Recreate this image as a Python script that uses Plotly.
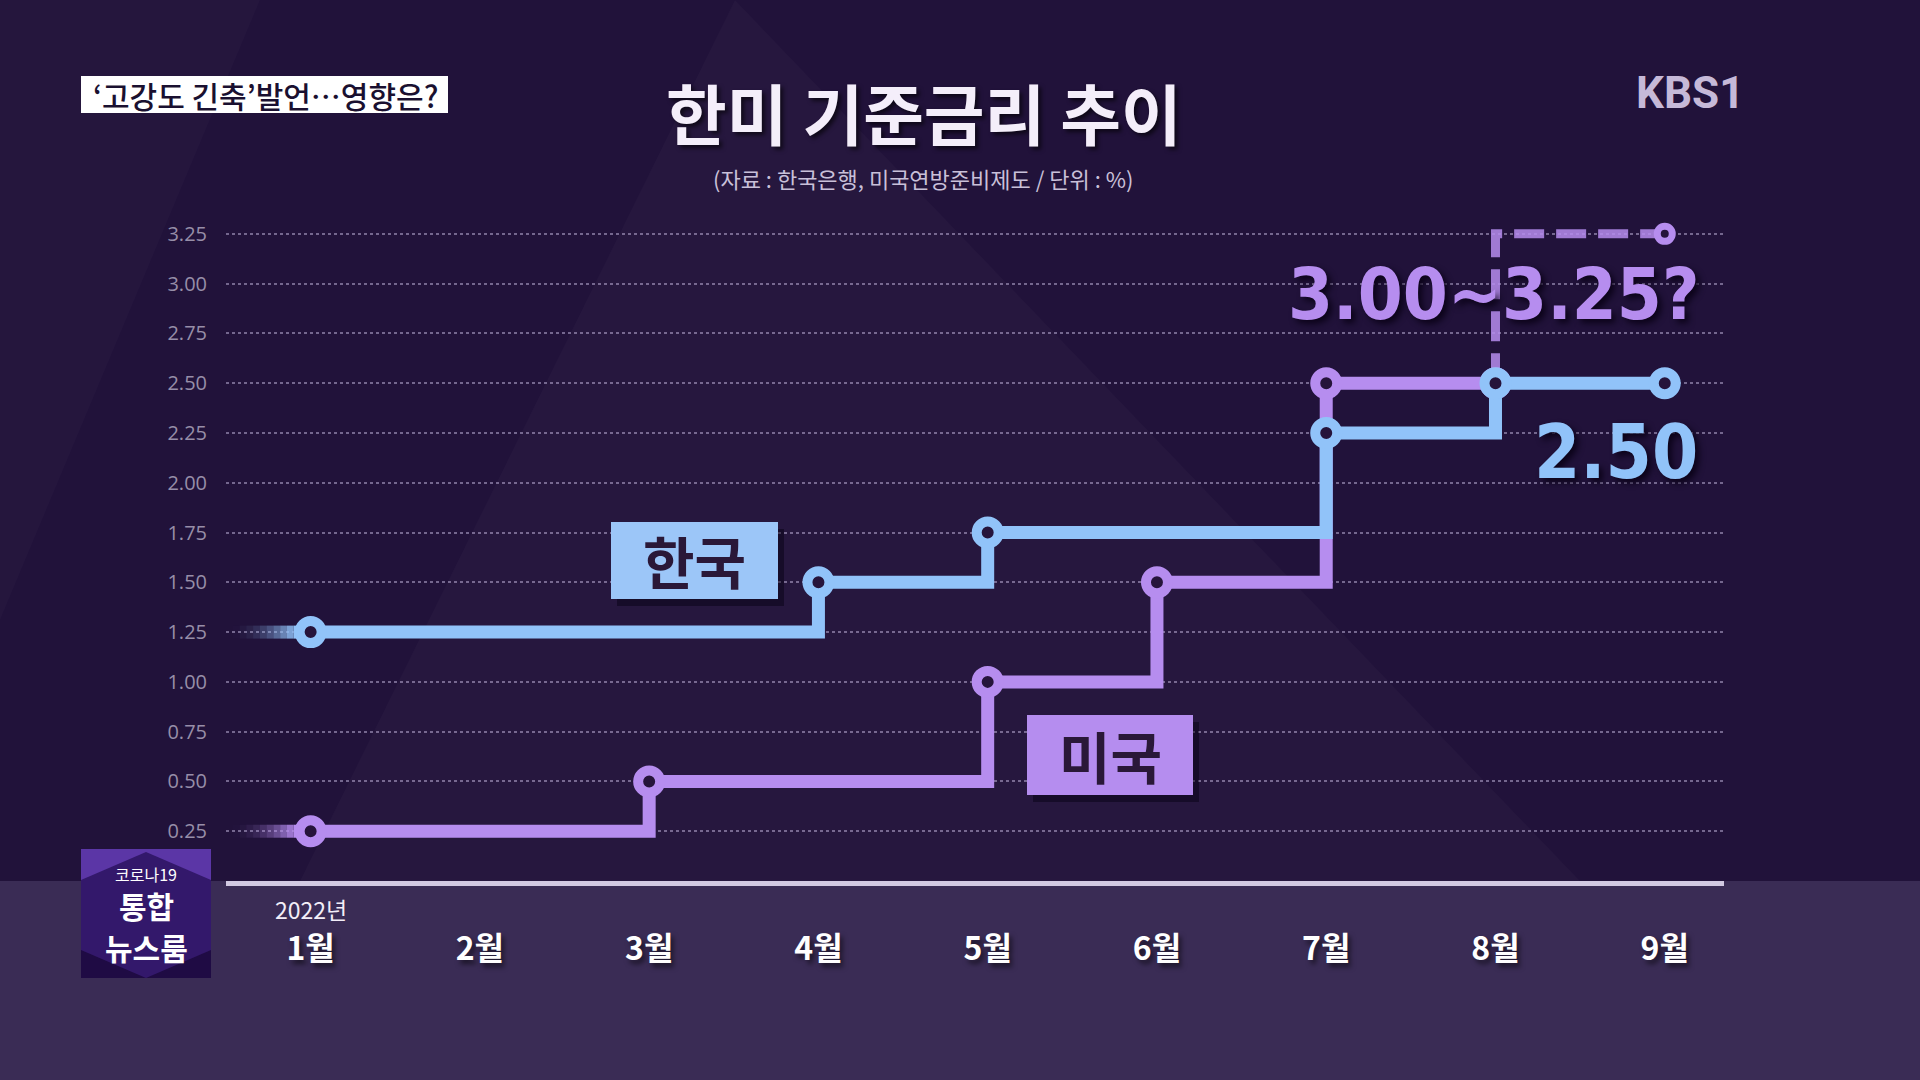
import plotly.graph_objects as go

# ---------------- data ----------------
months = ["1월", "2월", "3월", "4월", "5월", "6월", "7월", "8월", "9월"]
month_idx = list(range(len(months)))
yticks = [0.25, 0.50, 0.75, 1.00, 1.25, 1.50, 1.75, 2.00, 2.25, 2.50, 2.75, 3.00, 3.25]

kr_x = [0, 3, 4, 6, 7, 8]
kr_y = [1.25, 1.50, 1.75, 2.25, 2.50, 2.50]

us_x = [0, 2, 4, 5, 6, 7]
us_y = [0.25, 0.50, 1.00, 1.50, 2.50, 2.50]

us_proj_x = [7, 8]
us_proj_y = [2.50, 3.25]

# ---------------- style ----------------
BG = "#21123a"
BAND = "#3a2c55"
BLUE = "#91c3f9"
PURPLE = "#b68def"
DARK = "#26143b"
KR_FONT = "Noto Sans CJK KR"
NUM_FONT = "DejaVu Sans Condensed, DejaVu Sans, sans-serif"
SHADOW = "4px 4px 6px rgba(8,0,20,0.85)"

L, R, T, B = 226, 196, 204, 199
W = 1920 - L - R
H = 1080 - T - B
BASE = 1080 - B


def PX(x):
    return (x - L) / W


def PY(y):
    return (BASE - y) / H


fig = go.Figure()

# fading lead-in stubs
def stub(y0, color_rgb):
    n = 10
    xs0, xs1 = -0.46, -0.06
    for i in range(n):
        a = (i + 1) / n
        x0 = xs0 + (xs1 - xs0) * i / n
        x1 = xs0 + (xs1 - xs0) * (i + 1) / n
        fig.add_trace(go.Scatter(
            x=[x0, x1], y=[y0, y0], mode="lines",
            line=dict(color=f"rgba({color_rgb},{a*a:.3f})", width=13),
            hoverinfo="skip", showlegend=False))

stub(us_y[0], "182,141,239")
stub(kr_y[0], "145,195,249")

# US projection (dashed)
fig.add_trace(go.Scatter(
    x=us_proj_x, y=us_proj_y, mode="lines",
    line=dict(color="rgba(182,141,239,0.85)", width=9, shape="vh", dash="30px,12px"),
    hoverinfo="skip", showlegend=False))
fig.add_trace(go.Scatter(
    x=us_proj_x[-1:], y=us_proj_y[-1:], mode="markers",
    marker=dict(size=15, color=DARK, line=dict(color=PURPLE, width=7)),
    hoverinfo="skip", showlegend=False))

# US line
fig.add_trace(go.Scatter(
    x=us_x, y=us_y, mode="lines+markers", name="미국",
    line=dict(color=PURPLE, width=13, shape="hv"),
    marker=dict(size=22, color=DARK, line=dict(color=PURPLE, width=10)),
    showlegend=False))

# Korea line
fig.add_trace(go.Scatter(
    x=kr_x, y=kr_y, mode="lines+markers", name="한국",
    line=dict(color=BLUE, width=13, shape="hv"),
    marker=dict(size=22, color=DARK, line=dict(color=BLUE, width=10)),
    showlegend=False))

shapes = []
# background spotlight & band
shapes.append(dict(type="path", xref="paper", yref="paper", layer="below",
                   path=f"M {PX(735)} {PY(0)} L {PX(1580)} {PY(881)} L {PX(300)} {PY(881)} Z",
                   fillcolor="rgba(255,255,255,0.022)", line=dict(width=0)))
shapes.append(dict(type="path", xref="paper", yref="paper", layer="below",
                   path=f"M {PX(0)} {PY(0)} L {PX(260)} {PY(0)} L {PX(0)} {PY(620)} Z",
                   fillcolor="rgba(255,255,255,0.018)", line=dict(width=0)))
shapes.append(dict(type="rect", xref="paper", yref="paper", layer="below",
                   x0=PX(0), x1=PX(1920), y0=PY(881), y1=PY(1080),
                   fillcolor=BAND, line=dict(width=0)))
# tag box
shapes.append(dict(type="rect", xref="paper", yref="paper",
                   x0=PX(81), x1=PX(448), y0=PY(113), y1=PY(76),
                   fillcolor="#ffffff", line=dict(width=0)))
# label boxes with shadow
for (x0, y0, x1, y1, col) in [(611, 522, 778, 599, "#9cc6f8"), (1027, 715, 1193, 795, "#b58def")]:
    shapes.append(dict(type="rect", xref="paper", yref="paper",
                       x0=PX(x0 + 6), x1=PX(x1 + 6), y0=PY(y1 + 7), y1=PY(y0 + 7),
                       fillcolor="rgba(5,0,15,0.45)", line=dict(width=0)))
    shapes.append(dict(type="rect", xref="paper", yref="paper",
                       x0=PX(x0), x1=PX(x1), y0=PY(y1), y1=PY(y0),
                       fillcolor=col, line=dict(width=0)))
# corner logo box
shapes.append(dict(type="rect", xref="paper", yref="paper",
                   x0=PX(81), x1=PX(211), y0=PY(978), y1=PY(849),
                   fillcolor="#1f0b44", line=dict(width=0)))
shapes.append(dict(type="path", xref="paper", yref="paper",
                   path=(f"M {PX(81)} {PY(849)} L {PX(211)} {PY(849)} L {PX(211)} {PY(900)} "
                         f"L {PX(146)} {PY(930)} L {PX(81)} {PY(900)} Z"),
                   fillcolor="#5b36a6", line=dict(width=0)))
shapes.append(dict(type="path", xref="paper", yref="paper",
                   path=(f"M {PX(81)} {PY(880)} L {PX(146)} {PY(852)} L {PX(211)} {PY(880)} "
                         f"L {PX(211)} {PY(950)} L {PX(146)} {PY(978)} L {PX(81)} {PY(950)} Z"),
                   fillcolor="#33186b", line=dict(width=0)))

annotations = []


def ann(text, x, y, size, color, family=KR_FONT, weight="normal", shadow="none", **kw):
    annotations.append(dict(text=text, x=PX(x), y=PY(y), xref="paper", yref="paper",
                            showarrow=False, xanchor="center", yanchor="middle",
                            font=dict(family=family, size=size, color=color, weight=weight, shadow=shadow),
                            **kw))


ann("한미 기준금리 추이", 924, 111, 66, "#f4eefa", weight="bold", shadow="3px 3px 4px rgba(0,0,0,0.6)")
ann("(자료 : 한국은행, 미국연방준비제도 / 단위 : %)", 923, 178, 22, "#c9c0d9")
ann("‘고강도 긴축’발언…영향은?", 265, 95, 30, "#1a1030", weight=500)
ann("KBS1", 1690, 93, 44, "#c6b9d8", family="Roboto, sans-serif", weight="bold")
ann("한국", 694, 559, 56, "#2a1838", weight="bold")
ann("미국", 1110, 754, 56, "#2a1838", weight="bold")
ann("3.00~3.25?", 1494, 294, 72, PURPLE, family=NUM_FONT, weight="bold", shadow=SHADOW)
ann("2.50", 1616, 452, 74, BLUE, family=NUM_FONT, weight="bold", shadow=SHADOW)
ann("2022년", 311, 909, 23, "#f2eef8")
ann("코로나19", 146, 874, 16, "#ffffff")
ann("통합", 146, 905, 30, "#ffffff", weight="bold")
ann("뉴스룸", 146, 947, 30, "#ffffff", weight="bold")

fig.update_layout(
    width=1920, height=1080,
    margin=dict(l=L, r=R, t=T, b=B),
    paper_bgcolor=BG, plot_bgcolor="rgba(0,0,0,0)",
    shapes=shapes, annotations=annotations,
    showlegend=False,
    xaxis=dict(range=[-0.5, 8.35], tickvals=month_idx, ticktext=months,
               showgrid=False, zeroline=False, showline=True,
               linecolor="#d2c9e2", linewidth=5, ticks="",
               ticklabelstandoff=36,
               tickfont=dict(family=KR_FONT, size=32, color="#ffffff", weight="bold",
                             shadow="3px 4px 5px rgba(0,0,0,0.55)")),
    yaxis=dict(range=[0, 3.4], tickvals=yticks, ticktext=[f"{v:.2f}" for v in yticks],
               showgrid=True, gridcolor="rgba(200,188,225,0.5)", gridwidth=2, griddash="dot",
               zeroline=False, showline=False, ticks="", ticklabelstandoff=18,
               tickfont=dict(family="Open Sans", size=20, color="#978ea8")),
)

fig.write_html("out.html")
